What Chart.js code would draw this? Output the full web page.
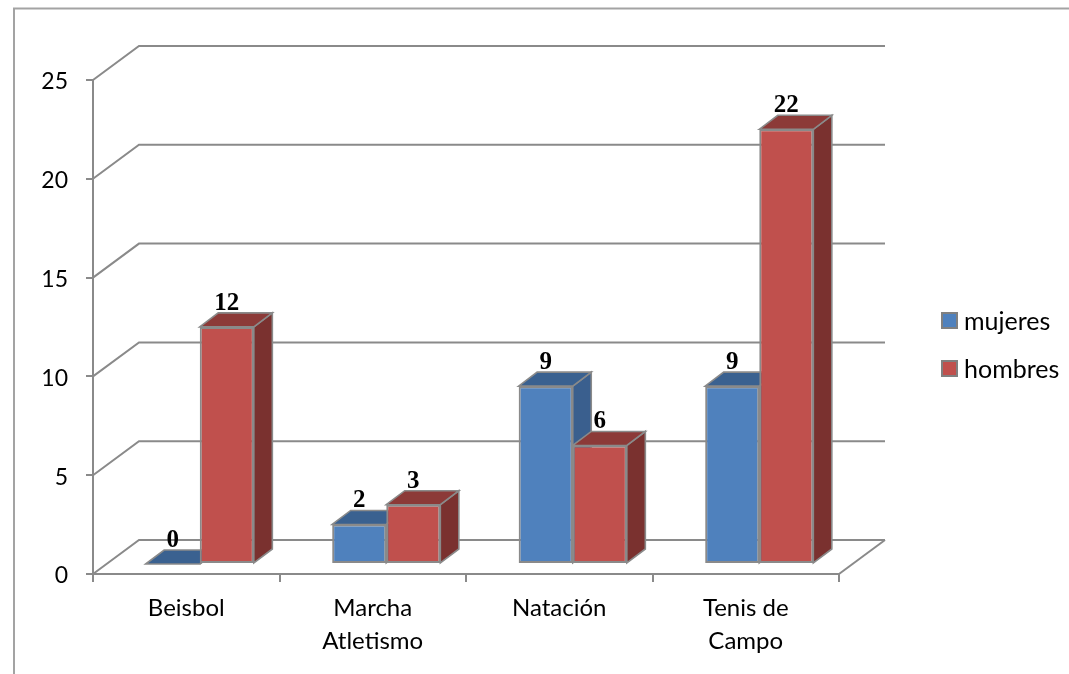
<!DOCTYPE html>
<html>
<head>
<meta charset="utf-8">
<title>Deportes</title>
<script src="https://cdn.jsdelivr.net/npm/chart.js@4/dist/chart.umd.js"></script>
<style>
html, body { margin: 0; padding: 0; background: #ffffff; overflow: hidden; }
#wrap { position: relative; width: 1069px; height: 674px; }
#legend { position: absolute; left: 941px; top: 312px; font: 25px Lato, sans-serif; color: #000; }
#legend .item { display: flex; align-items: center; height: 17px; margin-bottom: 31px; white-space: nowrap; line-height: 15px; }
#legend .box { width: 13px; height: 13px; border: 2px solid #808080; margin-right: 6px; }
</style>
</head>
<body>
<div id="wrap"><canvas id="chart" width="1069" height="674"></canvas><div id="legend"></div></div>
<script>
const categories = ['Beisbol', ['Marcha', 'Atletismo'], 'Natación', ['Tenis de', 'Campo']];
const mujeres = [0, 2, 9, 9];
const hombres = [12, 3, 6, 22];
const yTicks = [0, 5, 10, 15, 20, 25];

const GREY = '#8a8a8a';
// fake 3d: how far the back wall sits from the front axes, and where bars sit in that depth
const WALL_DX = 46, WALL_DY = -34;
const BAR_SHIFT_X = 13.5, BAR_SHIFT_Y = -10;
const BAR_DX = 18.5, BAR_DY = -14;

const faceColors = [
    { top: '#3a6190', side: '#3a5f8e' },
    { top: '#8c3a38', side: '#7a312f' }
];

function line(ctx, pts, color, width) {
    ctx.beginPath();
    pts.forEach((p, i) => i ? ctx.lineTo(p[0], p[1]) : ctx.moveTo(p[0], p[1]));
    ctx.strokeStyle = color;
    ctx.lineWidth = width;
    ctx.lineJoin = 'miter';
    ctx.stroke();
}

function poly(ctx, pts, fill) {
    ctx.beginPath();
    pts.forEach((p, i) => i ? ctx.lineTo(p[0], p[1]) : ctx.moveTo(p[0], p[1]));
    ctx.closePath();
    ctx.fillStyle = fill;
    ctx.fill();
    ctx.strokeStyle = GREY;
    ctx.lineWidth = 1.6;
    ctx.stroke();
}

const room3d = {
    id: 'room3d',
    beforeDraw(chart) {
        const ctx = chart.ctx;
        // outer frame, open at the right and the bottom
        line(ctx, [[14, 674], [14, 8.5], [1069, 8.5]], '#a3a3a3', 2);
    },
    beforeDatasetsDraw(chart) {
        const ctx = chart.ctx;
        const y = chart.scales.y, a = chart.chartArea;
        yTicks.forEach(v => {
            const py = y.getPixelForValue(v);
            line(ctx, [[a.left, py], [a.left + WALL_DX, py + WALL_DY], [a.right + WALL_DX, py + WALL_DY]], GREY, 2);
        });
        const floor = y.getPixelForValue(0);
        line(ctx, [[a.right, floor], [a.right + WALL_DX, floor + WALL_DY]], GREY, 2);

        // datasets are painted here so the red bar goes over the blue one
        ctx.save();
        ctx.translate(BAR_SHIFT_X, BAR_SHIFT_Y);
        chart.data.datasets.forEach((ds, i) => {
            const meta = chart.getDatasetMeta(i);
            meta.data.forEach(bar => {
                const l = bar.x - bar.width / 2, r = bar.x + bar.width / 2;
                poly(ctx, [[r, bar.y], [r + BAR_DX, bar.y + BAR_DY], [r + BAR_DX, bar.base + BAR_DY], [r, bar.base]], faceColors[i].side);
                poly(ctx, [[l, bar.y], [l + BAR_DX, bar.y + BAR_DY], [r + BAR_DX, bar.y + BAR_DY], [r, bar.y]], faceColors[i].top);
            });
            meta.controller.draw();
        });
        ctx.restore();
        return false;
    },
    afterDraw(chart) {
        const ctx = chart.ctx;
        ctx.save();
        ctx.font = 'bold 25px "Liberation Serif"';
        ctx.fillStyle = '#000000';
        ctx.textAlign = 'center';
        ctx.textBaseline = 'alphabetic';
        chart.data.datasets.forEach((ds, i) => {
            chart.getDatasetMeta(i).data.forEach((bar, j) => {
                ctx.fillText(ds.data[j], bar.x + BAR_SHIFT_X, bar.y + BAR_SHIFT_Y + BAR_DY - 3);
            });
        });
        ctx.restore();
    }
};

const chart = new Chart(document.getElementById('chart').getContext('2d'), {
    type: 'bar',
    data: {
        labels: categories,
        datasets: [
            { label: 'mujeres', data: mujeres, backgroundColor: '#4f81bd', borderColor: GREY, borderWidth: 2, borderSkipped: false },
            { label: 'hombres', data: hombres, backgroundColor: '#c0504d', borderColor: GREY, borderWidth: 2, borderSkipped: false }
        ]
    },
    options: {
        responsive: false,
        animation: false,
        layout: { padding: { top: 80, right: 230 } },
        datasets: { bar: { barPercentage: 1, categoryPercentage: 0.58 } },
        plugins: {
            tooltip: { enabled: false },
            legend: { display: false }
        },
        scales: {
            x: {
                afterFit(scale) { scale.height = 100; },
                grid: { drawOnChartArea: false, color: GREY, tickColor: GREY, tickLength: 8, lineWidth: 2 },
                border: { color: GREY, width: 2 },
                ticks: { color: '#000000', padding: 10, maxRotation: 0, autoSkip: false, font: { family: 'Lato', size: 24, lineHeight: 1.36 } }
            },
            y: {
                min: 0,
                max: 25,
                afterFit(scale) { scale.width = 93; },
                afterBuildTicks(scale) { scale.ticks = yTicks.map(v => ({ value: v })); },
                grid: { drawOnChartArea: false, color: GREY, tickColor: GREY, tickLength: 7, lineWidth: 2 },
                border: { color: GREY, width: 2 },
                ticks: { color: '#000000', padding: 18, labelOffset: 2, font: { family: 'Lato', size: 23 } }
            }
        }
    },
    plugins: [room3d]
});

// legend sits apart from the plot, so it is built from the datasets as plain html
const legend = document.getElementById('legend');
chart.data.datasets.forEach(ds => {
    const item = document.createElement('div');
    item.className = 'item';
    item.innerHTML = '<span class="box" style="background:' + ds.backgroundColor + '"></span>' + ds.label;
    legend.appendChild(item);
});
</script>
</body>
</html>
